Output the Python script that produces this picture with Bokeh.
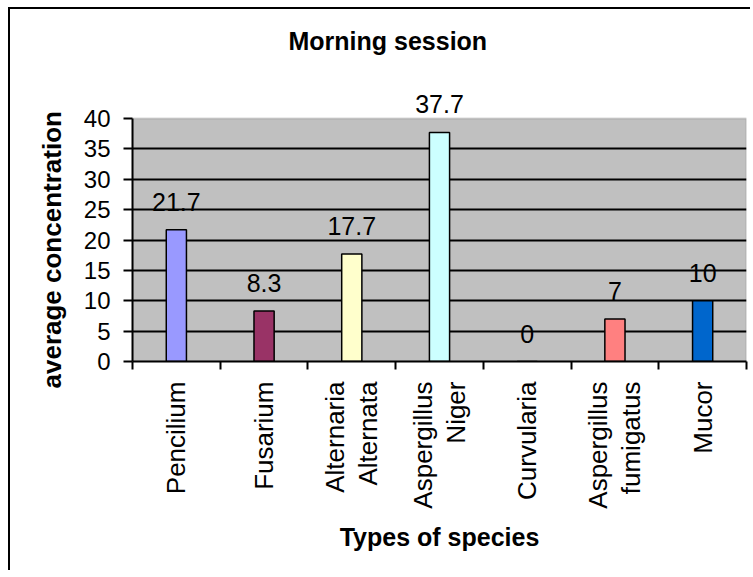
import math
from bokeh.plotting import figure
from bokeh.models import (Range1d, FixedTicker, ColumnDataSource, LabelSet,
                          BoxAnnotation, Title)
from bokeh.core.properties import value
from bokeh.embed import file_html
from bokeh.resources import INLINE

species = ["Pencilium", "Fusarium", "Alternaria\nAlternata", "Aspergillus\nNiger",
           "Curvularia", "Aspergillus\nfumigatus", "Mucor"]
concentration = [21.7, 8.3, 17.7, 37.7, 0, 7, 10]
value_labels = ["21.7", "8.3", "17.7", "37.7", "0", "7", "10"]
bar_colors = ["#9999FF", "#993366", "#FFFFCC", "#CCFFFF", "#660066", "#FF8080", "#0066CC"]
y_ticks = [0, 5, 10, 15, 20, 25, 30, 35, 40]
y_max = 40

FONT = "Liberation Sans"

positions = list(range(len(species)))
source = ColumnDataSource(data=dict(x=positions, top=concentration,
                                    color=bar_colors, label=value_labels))

# frame spans 58..361 px vertically; value axis 0..40 occupies 118..361
p = figure(width=750, height=570, output_backend="svg", toolbar_location=None,
           x_range=Range1d(-0.5, len(species) - 0.5), y_range=Range1d(0, 49.88),
           min_border_left=132, min_border_right=4, min_border_top=58,
           min_border_bottom=209)

# outer chart border (left and top edges only are within view)
p.border_fill_color = None
p.styles = {
    "background": "linear-gradient(#000, #000) 8px 7px / 2px 100% no-repeat, "
                  "linear-gradient(#000, #000) 8px 7px / 100% 2px no-repeat, white"
}

p.background_fill_color = "white"
p.outline_line_color = None

# plot area (grey) from 0 to 40
plot_area = BoxAnnotation(bottom=0, top=y_max, fill_color="#C0C0C0", fill_alpha=1,
                          line_color="#808080", line_width=2, level="image")
p.add_layout(plot_area)

p.vbar(x="x", top="top", width=0.23, fill_color="color", line_color="black",
       line_width=1.5, source=source)

labels = LabelSet(x="x", y="top", text="label", source=source, text_align="center",
                  text_baseline="alphabetic", y_offset=19, text_font=value(FONT),
                  text_font_size=value("25px"), text_color=value("black"))
p.add_layout(labels)

# title
p.title.text = "Morning session"
p.title.text_font = FONT
p.title.text_font_size = "25px"
p.title.text_font_style = "bold"
p.title.text_color = "black"
p.title.align = "left"
p.title.offset = 156
p.title.standoff = 8

# y axis
yaxis = p.yaxis[0]
yaxis.ticker = FixedTicker(ticks=y_ticks)
yaxis.bounds = (0, y_max)
yaxis.major_label_text_font = FONT
yaxis.major_label_text_font_size = "24px"
yaxis.major_label_text_color = "black"
yaxis.major_label_standoff = 13
yaxis.major_tick_in = 0
yaxis.major_tick_out = 9
yaxis.minor_tick_line_color = None
yaxis.axis_line_width = 2
yaxis.major_tick_line_width = 2
yaxis.axis_line_color = "black"

# y axis title (placed like the original, a little below the centre of the value axis)
y_title = Title(text="average concentration", text_font=FONT, text_font_size="26px",
                text_font_style="bold", text_color="black", align="left",
                offset=-27, standoff=28)
p.add_layout(y_title, "left")

# x axis
xaxis = p.xaxis[0]
xaxis.ticker = FixedTicker(ticks=positions,
                           minor_ticks=[i - 0.5 for i in range(len(species) + 1)])
xaxis.major_label_overrides = {i: s for i, s in enumerate(species)}
xaxis.major_label_orientation = math.pi / 2
xaxis.major_label_text_font = FONT
xaxis.major_label_text_font_size = "26px"
xaxis.major_label_text_color = "black"
xaxis.major_label_text_align = "center"
xaxis.major_label_text_line_height = 1.1
xaxis.major_label_standoff = 12
xaxis.major_tick_in = 0
xaxis.major_tick_out = 0
xaxis.minor_tick_in = 0
xaxis.minor_tick_out = 8
xaxis.minor_tick_line_width = 2
xaxis.minor_tick_line_color = "black"
xaxis.axis_line_width = 2
xaxis.axis_line_color = "black"
xaxis.axis_label = "Types of species"
xaxis.axis_label_text_font = FONT
xaxis.axis_label_text_font_size = "25px"
xaxis.axis_label_text_font_style = "bold"
xaxis.axis_label_text_color = "black"
xaxis.axis_label_standoff = 11

p.xgrid.grid_line_color = None
p.ygrid.ticker = FixedTicker(ticks=y_ticks[1:-1])
p.ygrid.grid_line_color = "black"
p.ygrid.grid_line_width = 2

open("out.html", "w").write(file_html(p, INLINE))
